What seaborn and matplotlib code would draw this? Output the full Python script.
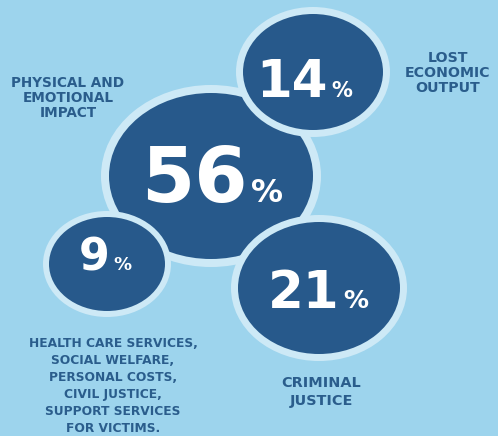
import matplotlib
matplotlib.use("Agg")
import matplotlib.pyplot as plt
from matplotlib.patches import Ellipse
import seaborn as sns

# data
shares = [56, 14, 9, 21]
labels = [
    "PHYSICAL AND\nEMOTIONAL\nIMPACT",
    "LOST\nECONOMIC\nOUTPUT",
    "HEALTH CARE SERVICES,\nSOCIAL WELFARE,\nPERSONAL COSTS,\nCIVIL JUSTICE,\nSUPPORT SERVICES\nFOR VICTIMS.",
    "CRIMINAL\nJUSTICE",
]

# layout (pixel coords of a 498x436 canvas)
bubble_xy = [(211, 176), (313, 72), (107, 264), (319, 288)]
bubble_r = [(102, 83), (70, 58), (58, 47), (81, 66)]
ring_w = [8, 7, 6, 7]
num_xy = [(248, 202), (328, 97), (110, 270), (340, 308)]
num_fs = [55, 37, 32, 37]
pct_fs = [23, 15, 13, 18]
label_xy = [(68, 98), (448, 73), (113, 386), (321, 392)]
label_fs = [9.8, 10.2, 8.8, 10.4]
label_ls = [1.11, 1.10, 1.40, 1.28]

bg = "#9dd4ed"
ring = "#cde9f6"
dark = "#27598b"
txt = "#2a5d8c"

sns.set_theme(style="white", rc={"axes.facecolor": bg, "figure.facecolor": bg})
plt.rcParams["font.family"] = ["DejaVu Sans"]

fig = plt.figure(figsize=(4.98, 4.36), dpi=100)
ax = fig.add_axes([0, 0, 1, 1])
ax.set_xlim(0, 498)
ax.set_ylim(436, 0)
ax.axis("off")

for i, v in enumerate(shares):
    (cx, cy), (rx, ry), w = bubble_xy[i], bubble_r[i], ring_w[i]
    z = 1 if i == 0 else 2 + i
    ax.add_patch(Ellipse((cx, cy), 2 * (rx + w), 2 * (ry + w), facecolor=ring, edgecolor="none", zorder=z))
    ax.add_patch(Ellipse((cx, cy), 2 * rx, 2 * ry, facecolor=dark, edgecolor="none", zorder=z + 0.1))
    nx, ny = num_xy[i]
    ax.text(nx, ny, str(v), color="white", fontsize=num_fs[i], fontweight="bold",
            ha="right", va="baseline", zorder=z + 0.2)
    ax.text(nx + 3, ny, "%", color="white", fontsize=pct_fs[i], fontweight="bold",
            ha="left", va="baseline", zorder=z + 0.2)

for i, lab in enumerate(labels):
    lx, ly = label_xy[i]
    ax.text(lx, ly, lab, color=txt, fontsize=label_fs[i], fontweight="bold",
            ha="center", va="center", multialignment="center",
            linespacing=label_ls[i], zorder=10)

fig.savefig("out.png", dpi=100, facecolor=bg)
